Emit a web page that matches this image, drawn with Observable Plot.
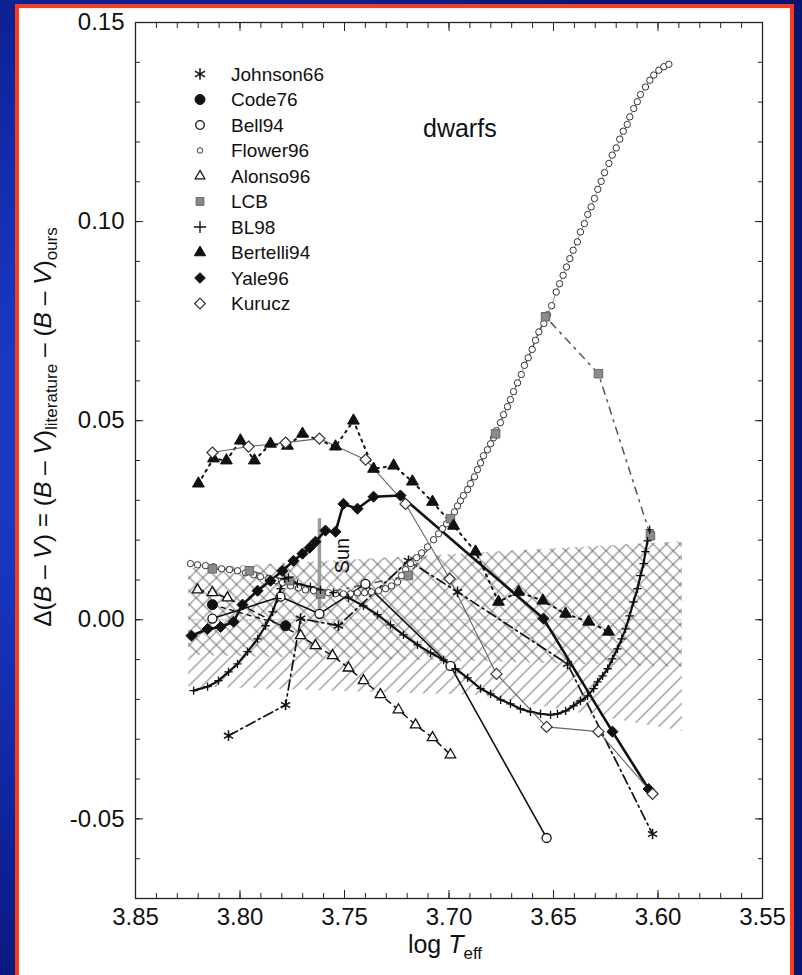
<!DOCTYPE html>
<html>
<head>
<meta charset="utf-8">
<script src="https://cdn.jsdelivr.net/npm/d3@7"></script>
<script src="https://cdn.jsdelivr.net/npm/@observablehq/plot@0.6"></script>
<style>
  html, body { margin:0; padding:0; }
  body { width:802px; height:975px; overflow:hidden; position:relative;
    background: radial-gradient(ellipse 75% 65% at 20% 45%, #2246da 0%, #1634bd 35%, #0d2296 70%, #071570 100%);
    font-family: "Liberation Sans", Arial, Helvetica, sans-serif; }
  #panel { position:absolute; left:15px; top:4px; width:779px; height:1010px; box-sizing:border-box;
    border:4px solid #ff3a1a; background:#fff; }
  #chart, #overlay { position:absolute; left:0; top:0; }
</style>
</head>
<body>
<div id="panel"></div>
<svg width="0" height="0" style="position:absolute;left:0;top:0">
  <defs>
    <pattern id="hatchSlash" patternUnits="userSpaceOnUse" width="9.5" height="9.5" patternTransform="rotate(45)">
      <line x1="1" y1="0" x2="1" y2="9.5" stroke="#5c5c5c" stroke-width="0.85"/>
    </pattern>
    <pattern id="hatchBack" patternUnits="userSpaceOnUse" width="9.5" height="9.5" patternTransform="rotate(-45)">
      <line x1="1" y1="0" x2="1" y2="9.5" stroke="#5c5c5c" stroke-width="0.85"/>
    </pattern>
  </defs>
</svg>
<div id="chart"></div>
<script>
// ---------------- data ----------------
const seriesNames = ["Johnson66","Code76","Bell94","Flower96","Alonso96","LCB","BL98","Bertelli94","Yale96","Kurucz"];

const xTicksMajor = [3.85, 3.80, 3.75, 3.70, 3.65, 3.60, 3.55];
const xTickLabels = ["3.85","3.80","3.75","3.70","3.65","3.60","3.55"];
const yTicksMajor = [0.15, 0.10, 0.05, 0.00, -0.05];
const yTickLabels = ["0.15","0.10","0.05","0.00","-0.05"];
const xDomain = [3.85, 3.55];
const yDomain = [-0.07, 0.15];

const johnson66 = [[3.8055,-0.0291],[3.7782,-0.0214],[3.7710,0.0003],[3.7529,-0.0015],[3.7194,0.0148],[3.6959,0.0070],[3.6433,-0.0111],[3.6026,-0.0538]];
const code76 = [[3.8132,0.0038],[3.7782,-0.0015]];
const bell94 = [[3.8132,0.0003],[3.7806,0.0058],[3.7620,0.0015],[3.7400,0.0090],[3.6993,-0.0116],[3.6533,-0.0548]];
const flower96 = [[3.8237,0.0141],[3.8203,0.0138],[3.8165,0.0136],[3.8127,0.0133],[3.8088,0.0128],[3.8050,0.0126],[3.8012,0.0123],[3.7974,0.0118],[3.7935,0.0113],[3.7902,0.0108],[3.7864,0.0103],[3.7830,0.0098],[3.7797,0.0093],[3.7758,0.0085],[3.7720,0.0080],[3.7687,0.0075],[3.7648,0.0073],[3.7615,0.0070],[3.7577,0.0068],[3.7543,0.0065],[3.7505,0.0065],[3.7471,0.0065],[3.7438,0.0068],[3.7404,0.0068],[3.7371,0.0070],[3.7337,0.0073],[3.7304,0.0078],[3.7275,0.0085],[3.7246,0.0095],[3.7227,0.0111],[3.7208,0.0126],[3.7184,0.0141],[3.7155,0.0156],[3.7131,0.0168],[3.7103,0.0183],[3.7074,0.0201],[3.7050,0.0216],[3.7031,0.0229],[3.7012,0.0241],[3.6993,0.0256],[3.6974,0.0271],[3.6959,0.0286],[3.6945,0.0299],[3.6931,0.0312],[3.6911,0.0327],[3.6897,0.0342],[3.6878,0.0359],[3.6864,0.0377],[3.6849,0.0394],[3.6835,0.0412],[3.6816,0.0427],[3.6801,0.0442],[3.6787,0.0457],[3.6773,0.0475],[3.6754,0.0495],[3.6739,0.0515],[3.6720,0.0535],[3.6706,0.0553],[3.6691,0.0573],[3.6672,0.0595],[3.6654,0.0616],[3.6639,0.0639],[3.6621,0.0658],[3.6602,0.0679],[3.6586,0.0702],[3.6570,0.0723],[3.6546,0.0744],[3.6529,0.0766],[3.6509,0.0789],[3.6487,0.0823],[3.6471,0.0844],[3.6454,0.0865],[3.6438,0.0886],[3.6422,0.0907],[3.6406,0.0928],[3.6386,0.0949],[3.6371,0.0974],[3.6352,0.0995],[3.6336,0.1018],[3.6320,0.1037],[3.6304,0.1058],[3.6288,0.1081],[3.6272,0.1101],[3.6256,0.1123],[3.6235,0.1146],[3.6219,0.1167],[3.6200,0.1185],[3.6183,0.1207],[3.6166,0.1227],[3.6147,0.1244],[3.6135,0.1263],[3.6116,0.1284],[3.6099,0.1301],[3.6084,0.1319],[3.6060,0.1338],[3.6039,0.1355],[3.6020,0.1368],[3.5996,0.1380],[3.5972,0.1389],[3.5948,0.1395]];
const alonso96 = [[3.8203,0.0075],[3.8132,0.0068],[3.8060,0.0055],[3.7710,-0.0040],[3.7639,-0.0065],[3.7557,-0.0090],[3.7481,-0.0121],[3.7409,-0.0153],[3.7328,-0.0188],[3.7242,-0.0226],[3.7160,-0.0264],[3.7079,-0.0296],[3.6993,-0.0339]];
const lcb = [[3.8132,0.0128],[3.7955,0.0123],[3.7763,0.0098],[3.7614,0.0065],[3.7194,0.0111],[3.6993,0.0254],[3.6777,0.0467],[3.6538,0.0761],[3.6285,0.0618],[3.6036,0.0211]];
const bl98 = [[3.8222,-0.0178],[3.8155,-0.0168],[3.8103,-0.0153],[3.8055,-0.0131],[3.8012,-0.0111],[3.7964,-0.0080],[3.7916,-0.0048],[3.7878,-0.0015],[3.7844,0.0020],[3.7821,0.0053],[3.7806,0.0078],[3.7787,0.0103],[3.7768,0.0106],[3.7725,0.0090],[3.7663,0.0083],[3.7615,0.0075],[3.7553,0.0068],[3.7481,0.0055],[3.7409,0.0035],[3.7342,0.0013],[3.7280,-0.0013],[3.7218,-0.0038],[3.7151,-0.0063],[3.7088,-0.0083],[3.7026,-0.0101],[3.6969,-0.0123],[3.6911,-0.0146],[3.6849,-0.0173],[3.6801,-0.0186],[3.6753,-0.0201],[3.6706,-0.0211],[3.6658,-0.0224],[3.6610,-0.0231],[3.6562,-0.0236],[3.6514,-0.0239],[3.6481,-0.0236],[3.6442,-0.0229],[3.6404,-0.0216],[3.6371,-0.0204],[3.6337,-0.0191],[3.6308,-0.0173],[3.6289,-0.0156],[3.6265,-0.0141],[3.6241,-0.0123],[3.6218,-0.0098],[3.6194,-0.0073],[3.6174,-0.0048],[3.6155,-0.0023],[3.6136,0.0010],[3.6117,0.0045],[3.6098,0.0078],[3.6084,0.0111],[3.6069,0.0141],[3.6060,0.0171],[3.6050,0.0198],[3.6040,0.0226]];
const bertelli94 = [[3.8199,0.0342],[3.8127,0.0405],[3.8065,0.0400],[3.7998,0.0450],[3.7931,0.0400],[3.7854,0.0442],[3.7773,0.0437],[3.7701,0.0467],[3.7543,0.0435],[3.7457,0.0500],[3.7361,0.0379],[3.7265,0.0387],[3.7175,0.0347],[3.7079,0.0296],[3.6978,0.0236],[3.6873,0.0171],[3.6763,0.0045],[3.6667,0.0070],[3.6551,0.0048],[3.6442,0.0015],[3.6332,-0.0005],[3.6237,-0.0030]];
const yale96 = [[3.8232,-0.0040],[3.8155,-0.0023],[3.8093,-0.0018],[3.8031,-0.0005],[3.7988,0.0038],[3.7916,0.0073],[3.7854,0.0098],[3.7797,0.0123],[3.7744,0.0148],[3.7701,0.0166],[3.7667,0.0181],[3.7639,0.0196],[3.7591,0.0224],[3.7543,0.0221],[3.7505,0.0291],[3.7438,0.0279],[3.7361,0.0309],[3.7232,0.0312],[3.6548,0.0003],[3.6218,-0.0281],[3.6045,-0.0425]];
const kurucz = [[3.8132,0.0420],[3.7959,0.0435],[3.7782,0.0445],[3.7620,0.0455],[3.7399,0.0402],[3.7208,0.0291],[3.6997,0.0103],[3.6773,-0.0136],[3.6533,-0.0269],[3.6285,-0.0281],[3.6026,-0.0437]];

// shaded region (our calibration band)
const hatchX = [3.8246, 3.685, 3.5883];
const hatchTop = [0.0128, 0.0168, 0.0196];
const hatchSlashBottom = [-0.0168, -0.0190, -0.0280];
const hatchCrossBottom = [-0.0090, -0.0105, -0.0120];

// Sun marker
const sunLogT = 3.762;
const sunRange = [0.0025, 0.0254];

// ---------------- styles ----------------
const seriesData = {Johnson66: johnson66, Code76: code76, Bell94: bell94, Flower96: flower96, Alonso96: alonso96,
  LCB: lcb, BL98: bl98, Bertelli94: bertelli94, Yale96: yale96, Kurucz: kurucz};

const seriesStyle = {
  Johnson66: {symbol:"asterisk", r:5, lr:5.5, fill:"none", stroke:"#111", sw:1.5,
              line:{stroke:"#111", strokeWidth:1.7, strokeDasharray:"10,4,2,4"}},
  Code76:    {symbol:"circle", r:5, lr:5, fill:"#111", stroke:"#111", sw:1,
              line:{stroke:"#111", strokeWidth:1.4, strokeDasharray:"4,5"}},
  Bell94:    {symbol:"circle", r:4.5, lr:4.3, fill:"#fff", stroke:"#111", sw:1.3,
              line:{stroke:"#111", strokeWidth:1.6}},
  Flower96:  {symbol:"circle", r:3.2, lr:2.8, fill:"#fff", stroke:"#333", sw:1,
              line:{stroke:"#777", strokeWidth:0.8}},
  Alonso96:  {symbol:"triangle2", r:5, lr:4.6, fill:"#fff", stroke:"#111", sw:1.3,
              line:{stroke:"#111", strokeWidth:1.5, strokeDasharray:"6,5"}},
  LCB:       {symbol:"square", r:4.8, lr:4.4, fill:"#8a8a8a", stroke:"#666", sw:1,
              line:{stroke:"#555", strokeWidth:1.5, strokeDasharray:"7,6,2,6"}},
  BL98:      {symbol:"plus", r:2.8, lr:4, fill:"none", stroke:"#111", sw:1.3,
              line:{stroke:"#111", strokeWidth:2.2}},
  Bertelli94:{symbol:"triangle", r:4.4, lr:4.2, fill:"#111", stroke:"#111", sw:1,
              line:{stroke:"#111", strokeWidth:2, strokeDasharray:"2,5"}},
  Yale96:    {symbol:"diamond2", r:5, lr:4.8, fill:"#111", stroke:"#111", sw:1,
              line:{stroke:"#111", strokeWidth:2.6}},
  Kurucz:    {symbol:"diamond2", r:5, lr:4.8, fill:"#fff", stroke:"#333", sw:1.2,
              line:{stroke:"#666", strokeWidth:1.1}}
};

// ---------------- build ----------------
const rowsOf = arr => arr.map(([x, y]) => ({x, y}));
const hatchRows = hatchX.map((x, i) => ({x, top: hatchTop[i], slashLo: hatchSlashBottom[i], crossLo: hatchCrossBottom[i]}));
const sunRows = [{x: sunLogT, y1: sunRange[0], y2: sunRange[1]}];
const xMinor = d3.range(355, 386).map(i => i / 100);
const yMinor = d3.range(-7, 16).map(i => i / 100);
const blank = () => "";

const marks = [];
marks.push(Plot.areaY(hatchRows, {x:"x", y1:"slashLo", y2:"top", fill:"url(#hatchSlash)", curve:"linear"}));
marks.push(Plot.areaY(hatchRows, {x:"x", y1:"crossLo", y2:"top", fill:"url(#hatchBack)", curve:"linear"}));
marks.push(Plot.ruleY([0], {x1: hatchX[0], x2: hatchX[hatchX.length-1], stroke:"#c4c4c4", strokeWidth:1}));
marks.push(Plot.ruleX(sunRows, {x:"x", y1:"y1", y2:"y2", stroke:"#9c9c9c", strokeWidth:3.5}));
marks.push(Plot.text(sunRows, {x:"x", y:"y2", text: () => "Sun", rotate:-90, dx:23, dy:37, fontSize:20, fill:"#111"}));

for (const name of seriesNames) {
  const st = seriesStyle[name];
  marks.push(Plot.line(rowsOf(seriesData[name]), {x:"x", y:"y", curve:"linear", ...st.line}));
}
for (const name of seriesNames) {
  const st = seriesStyle[name];
  marks.push(Plot.dot(rowsOf(seriesData[name]), {x:"x", y:"y", symbol: st.symbol, r: st.r, fill: st.fill, stroke: st.stroke, strokeWidth: st.sw}));
}

// frame & axes (ticks inward on all four sides)
marks.push(Plot.frame({stroke:"#222", strokeWidth:1.3}));
for (const anchor of ["bottom", "top"]) {
  marks.push(Plot.axisX(xMinor, {anchor, tickSize:-5, tickFormat: blank, label:null, stroke:"#222"}));
  marks.push(Plot.axisX(xTicksMajor, {anchor, tickSize:-8, tickFormat: blank, label:null, stroke:"#222"}));
}
for (const anchor of ["left", "right"]) {
  marks.push(Plot.axisY(yMinor, {anchor, tickSize:-5, tickFormat: blank, label:null, stroke:"#222"}));
  marks.push(Plot.axisY(yTicksMajor, {anchor, tickSize:-8, tickFormat: blank, label:null, stroke:"#222"}));
}
marks.push(Plot.axisX(xTicksMajor, {anchor:"bottom", tickSize:0, tickPadding:9, fontSize:24, fill:"#111",
  tickFormat: d => xTickLabels[xTicksMajor.indexOf(d)], label:null}));
marks.push(Plot.axisY(yTicksMajor, {anchor:"left", tickSize:0, tickPadding:11, fontSize:24, fill:"#111",
  tickFormat: d => yTickLabels[yTicksMajor.indexOf(d)], label:null}));

const chart = Plot.plot({
  width: 802, height: 975,
  marginLeft: 135, marginRight: 40, marginTop: 22, marginBottom: 77,
  x: {domain: xDomain, label: null},
  y: {domain: yDomain, label: null},
  style: {background: "transparent", fontFamily: '"Liberation Sans", Arial, sans-serif', color: "#111", overflow: "visible"},
  marks
});
document.getElementById("chart").appendChild(chart);

// ---------------- overlay: legend & titles ----------------
const ov = d3.select("body").append("svg").attr("id", "overlay").attr("width", 802).attr("height", 975)
  .style("font-family", '"Liberation Sans", Arial, sans-serif').style("pointer-events", "none");

const symbolMap = {asterisk: d3.symbolAsterisk, circle: d3.symbolCircle, triangle: d3.symbolTriangle,
  triangle2: d3.symbolTriangle2, square: d3.symbolSquare, plus: d3.symbolPlus, diamond2: d3.symbolDiamond2};

seriesNames.forEach((name, i) => {
  const st = seriesStyle[name];
  const g = ov.append("g").attr("transform", `translate(200,${74 + 25.5 * i})`);
  g.append("path").attr("d", d3.symbol(symbolMap[st.symbol], Math.PI * st.lr * st.lr)())
    .attr("fill", st.fill).attr("stroke", st.stroke).attr("stroke-width", st.sw);
  g.append("text").attr("x", 31).attr("dy", "0.35em").attr("font-size", 19).attr("fill", "#111").text(name);
});

ov.append("text").attr("x", 423).attr("y", 137).attr("font-size", 25).attr("fill", "#111").text("dwarfs");

// y-axis title
const yt = ov.append("text").attr("transform", "translate(42,427) rotate(-90)")
  .attr("text-anchor", "middle").attr("font-size", 24.5).attr("fill", "#111").attr("dy", "0.35em");
const yParts = [["Δ(",0],["B",1],[" – ",0],["V",1],[") = (",0],["B",1],[" – ",0],["V",1],[")",0],["literature",2],
  [" – (",0],["B",1],[" – ",0],["V",1],[")",0],["ours",2]];
let prevSub = false;
for (const [t, kind] of yParts) {
  const ts = yt.append("tspan").text(t);
  if (kind === 1) ts.attr("font-style", "italic");
  if (kind === 2) { ts.attr("font-size", 17).attr("dy", 6.5); prevSub = true; }
  else if (prevSub) { ts.attr("dy", -6.5); prevSub = false; }
}

// x-axis title
const xt = ov.append("text").attr("x", 445).attr("y", 953).attr("text-anchor", "middle")
  .attr("font-size", 25).attr("fill", "#111");
xt.append("tspan").text("log ");
xt.append("tspan").attr("font-style", "italic").text("T");
xt.append("tspan").attr("font-size", 17).attr("dy", 6).text("eff");
</script>
</body>
</html>
